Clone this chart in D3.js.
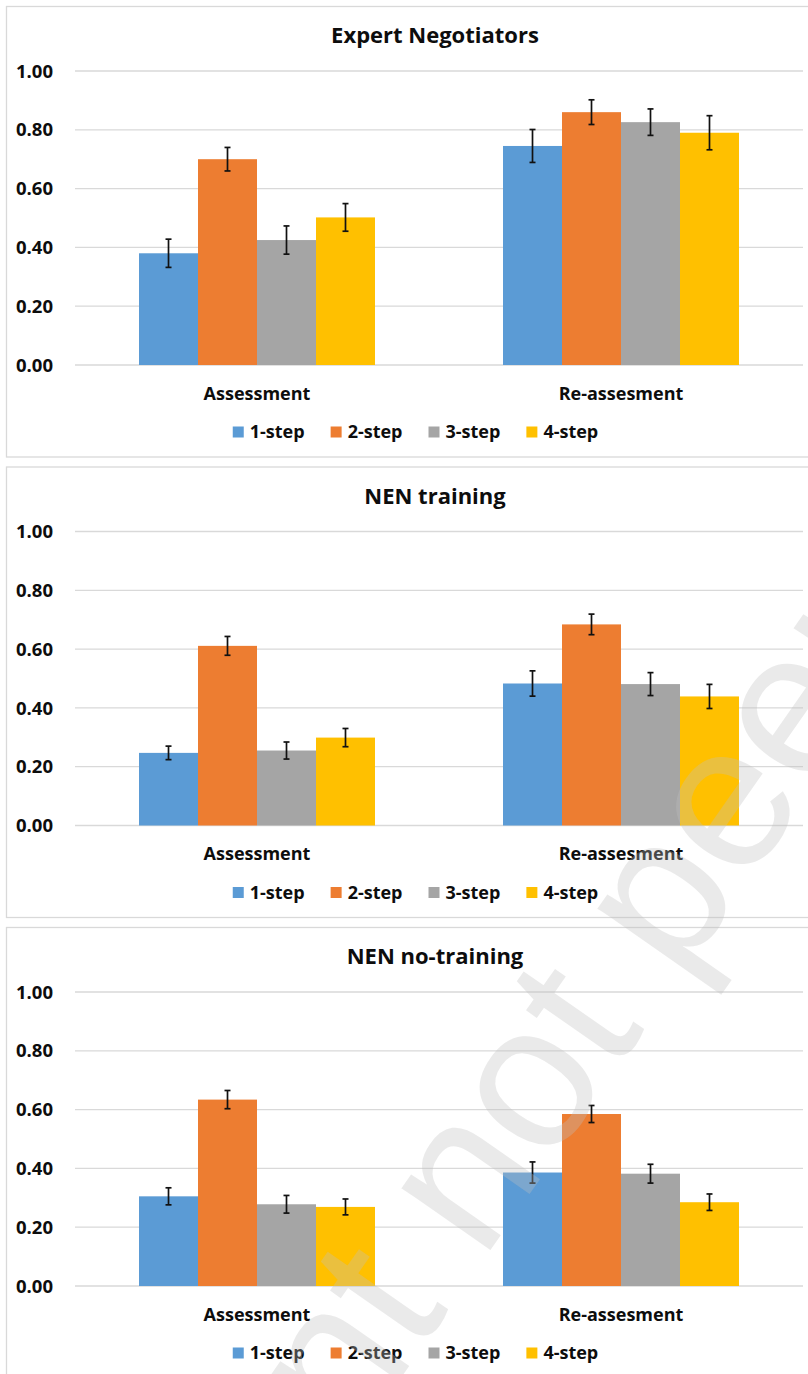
<!DOCTYPE html>
<html>
<head>
<meta charset="utf-8">
<script src="https://cdn.jsdelivr.net/npm/d3@7"></script>
<style>
  html, body { margin: 0; padding: 0; background: #fff; }
  svg { display: block; }
  text { font-family: "Open Sans", "Liberation Sans", sans-serif; font-weight: 700; fill: #0d0d0d; }
</style>
</head>
<body>
<svg id="chart" width="808" height="1374"></svg>
<script>
// ---- data ----
const panelTitles = ["Expert Negotiators", "NEN training", "NEN no-training"];
const categories = ["Assessment", "Re-assesment"];
const seriesNames = ["1-step", "2-step", "3-step", "4-step"];
const seriesColors = ["#5B9BD5", "#ED7D31", "#A5A5A5", "#FFC000"];
const yTicks = [0, 0.2, 0.4, 0.6, 0.8, 1.0];

// values[series][category]
const expertValues = [[0.38, 0.745], [0.70, 0.86], [0.425, 0.826], [0.502, 0.79]];
const expertErrors = [[0.048, 0.056], [0.04, 0.042], [0.048, 0.045], [0.047, 0.058]];
const trainingValues = [[0.247, 0.483], [0.611, 0.684], [0.255, 0.481], [0.299, 0.439]];
const trainingErrors = [[0.023, 0.043], [0.032, 0.035], [0.029, 0.039], [0.031, 0.041]];
const noTrainingValues = [[0.305, 0.386], [0.634, 0.585], [0.278, 0.382], [0.269, 0.285]];
const noTrainingErrors = [[0.029, 0.036], [0.031, 0.029], [0.030, 0.032], [0.027, 0.028]];

const watermarkText = "Preprint not peer reviewed";

const panelValues = [expertValues, trainingValues, noTrainingValues];
const panelErrors = [expertErrors, trainingErrors, noTrainingErrors];

// ---- layout ----
const svg = d3.select("#chart");
const panelTop0 = 6, panelStep = 460.5, panelHeight = 450.5;
const plotLeft = 75, plotRight = 803;

const x0 = d3.scaleBand().domain(categories).range([plotLeft, plotRight]).padding(0);
const x1 = d3.scaleBand().domain(seriesNames).range([0, x0.bandwidth()]).paddingInner(0).paddingOuter(1.085);

panelTitles.forEach((title, pi) => {
  const T = panelTop0 + pi * panelStep;
  const g = svg.append("g");
  g.append("rect").attr("x", 6.5).attr("y", T + 0.5).attr("width", 900).attr("height", panelHeight)
    .attr("fill", "#fff").attr("stroke", "#d9d9d9").attr("stroke-width", 1.3);

  const y = d3.scaleLinear().domain([0, 1]).range([T + 359, T + 65]);

  g.append("text").attr("x", 435).attr("y", T + 37).attr("text-anchor", "middle")
    .style("font-size", "22px").text(title);

  // grid lines
  g.selectAll(".grid").data(yTicks).enter().append("line")
    .attr("x1", plotLeft).attr("x2", plotRight)
    .attr("y1", d => y(d)).attr("y2", d => y(d))
    .attr("stroke", "#d9d9d9").attr("stroke-width", 1.3);

  // tick labels
  g.selectAll(".tick").data(yTicks).enter().append("text")
    .attr("x", 53).attr("y", d => y(d)).attr("dy", "0.36em").attr("text-anchor", "end")
    .style("font-size", "18.5px").text(d => d3.format(".2f")(d));

  const vals = panelValues[pi], errs = panelErrors[pi];
  seriesNames.forEach((s, si) => {
    categories.forEach((c, ci) => {
      const v = vals[si][ci];
      const bx = x0(c) + x1(s);
      g.append("rect").attr("x", bx).attr("y", y(v)).attr("width", x1.bandwidth())
        .attr("height", y(0) - y(v)).attr("fill", seriesColors[si]);
    });
  });
  // error bars
  seriesNames.forEach((s, si) => {
    categories.forEach((c, ci) => {
      const v = vals[si][ci], e = errs[si][ci];
      const cx = x0(c) + x1(s) + x1.bandwidth() / 2;
      const eb = g.append("g").attr("stroke", "#111").attr("stroke-width", 1.7);
      eb.append("line").attr("x1", cx).attr("x2", cx).attr("y1", y(v + e)).attr("y2", y(v - e));
      eb.append("line").attr("x1", cx - 3).attr("x2", cx + 3).attr("y1", y(v + e)).attr("y2", y(v + e));
      eb.append("line").attr("x1", cx - 3).attr("x2", cx + 3).attr("y1", y(v - e)).attr("y2", y(v - e));
    });
  });

  // category labels
  g.selectAll(".cat").data(categories).enter().append("text")
    .attr("x", d => x0(d) + x0.bandwidth() / 2).attr("y", T + 393.5).attr("text-anchor", "middle")
    .style("font-size", "18px").text(d => d);

  // legend
  const lg = g.append("g");
  let cx = 0;
  const gap = 26;
  seriesNames.forEach((s, si) => {
    const it = lg.append("g");
    it.append("rect").attr("x", 0).attr("y", -5.5).attr("width", 11).attr("height", 11).attr("fill", seriesColors[si]);
    const t = it.append("text").attr("x", 17).attr("y", 0).attr("dy", "0.36em").style("font-size", "18px").text(s);
    const w = t.node().getComputedTextLength();
    it.attr("transform", `translate(${cx},0)`);
    cx += 17 + w + gap;
  });
  const totalW = cx - gap;
  lg.attr("transform", `translate(${415.5 - totalW / 2},${T + 426})`);
});

// watermark
const wm = svg.append("g").attr("transform", "translate(535,1090) rotate(-55)");
const wt = wm.append("text").attr("x", 0).attr("y", 0).attr("dy", "0.27em")
  .style("font-family", "'Liberation Sans', sans-serif").style("font-weight", "400")
  .style("font-size", "205px").style("fill", "#bfbfbf").style("fill-opacity", 0.33)
  .text(watermarkText);
const idx = watermarkText.indexOf("not") + 1;
const off = wt.node().getSubStringLength(0, idx) + wt.node().getSubStringLength(idx, 1) / 2;
wt.attr("x", -off);
</script>
</body>
</html>
